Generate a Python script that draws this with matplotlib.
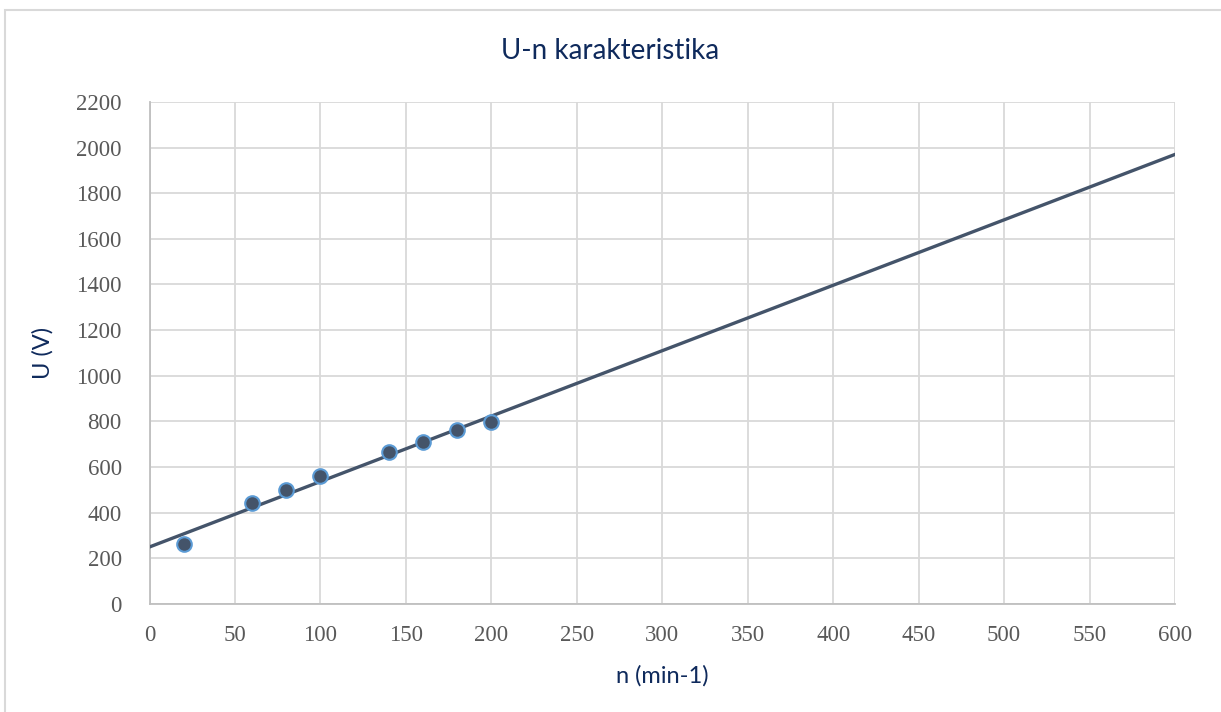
import numpy as np
import matplotlib.pyplot as plt
from matplotlib.patches import Rectangle

# measured points
n_vals = [20, 60, 80, 100, 140, 160, 180, 200]
u_vals = [260, 440, 500, 560, 665, 710, 760, 795]

x_ticks = list(range(0, 601, 50))
y_ticks = list(range(0, 2201, 200))

navy = '#0F2A5C'
tick_col = '#595959'
line_col = '#44546A'

fig = plt.figure(figsize=(12.21, 7.12), dpi=100)
fig.patches.append(Rectangle((0.004, -0.01), 1.2, 0.996, transform=fig.transFigure,
                             fill=False, edgecolor='#D9D9D9', linewidth=1.5))
ax = fig.add_axes([0.1225, 0.152, 0.8398, 0.7047])

# linear trendline (least squares over the measured points)
k, b = np.polyfit(n_vals, u_vals, 1)
xs = np.array([0, 600])
ax.plot(xs, k * xs + b, color=line_col, linewidth=2.4, zorder=3)
ax.plot(n_vals, u_vals, 'o', color=line_col, markersize=10.5,
        markeredgecolor='#5B9BD5', markeredgewidth=1.5, zorder=4)

ax.set_xlim(0, 600)
ax.set_ylim(0, 2200)
ax.set_xticks(x_ticks)
ax.set_yticks(y_ticks)
ax.grid(True, color='#D9D9D9', linewidth=1.3, zorder=0)
ax.set_axisbelow(True)
for s in ['top', 'right']:
    ax.spines[s].set_visible(False)
for s in ['left', 'bottom']:
    ax.spines[s].set_color('#BFBFBF')
    ax.spines[s].set_linewidth(1.3)
ax.tick_params(length=0, labelsize=16.5, labelcolor=tick_col)
ax.tick_params(axis='x', pad=15)
ax.tick_params(axis='y', pad=20)
for lab in ax.get_xticklabels() + ax.get_yticklabels():
    lab.set_family('Liberation Serif')

ax.set_xlabel('n (min-1)', fontsize=17, color=navy, family='Lato', labelpad=14)
ax.set_ylabel('U (V)', fontsize=17, color=navy, family='Lato', labelpad=16)
fig.text(0.5, 0.928, 'U-n karakteristika', ha='center', va='center',
         fontsize=20, color=navy, family='Lato')

fig.savefig('out.png', dpi=100)
